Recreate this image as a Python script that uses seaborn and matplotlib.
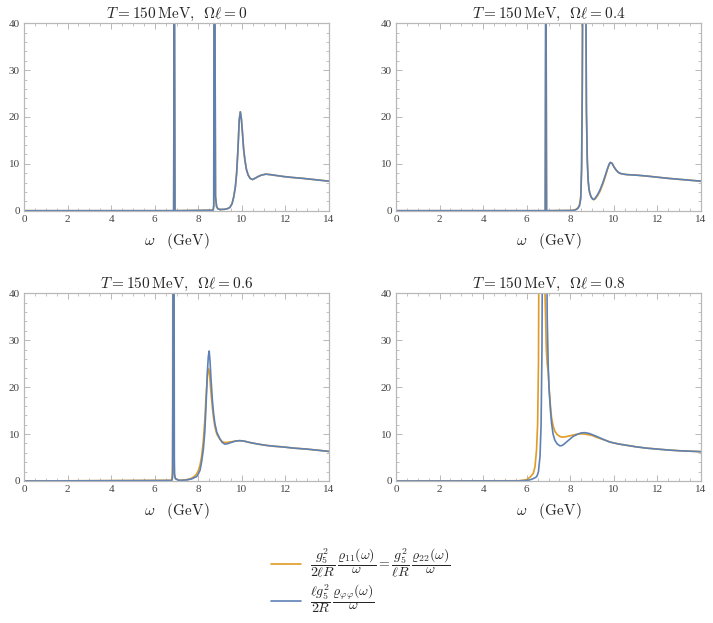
import pandas as pd
import numpy as np
import matplotlib
matplotlib.use('Agg')
import matplotlib.pyplot as plt
import seaborn as sns
from matplotlib.lines import Line2D
from matplotlib.ticker import MultipleLocator

# Colours (Mathematica defaults)
orange = '#E19C24'
blue = '#5E81B5'

# Panel titles
omega_l = ['0', '0.4', '0.6', '0.8']

# Panel 1: Omega*l = 0 (both curves coincide)
w_p1 = [0.0, 6.87, 6.90, 6.93, 8.68, 8.71, 8.725, 8.755, 8.79, 8.84, 8.90, 9.0, 9.2,
        9.35, 9.45, 9.55, 9.62, 9.70, 9.76, 9.82, 9.88, 9.93, 9.98, 10.03, 10.08,
        10.14, 10.21, 10.29, 10.38, 10.49, 10.60, 10.75, 10.90, 11.10, 11.30, 11.60,
        11.90, 12.30, 12.80, 13.40, 14.0]
blue_p1 = [0.0, 0.0, 60.0, 0.0, 0.1, 1.0, 60.0, 60.0, 3.0, 0.9, 0.4, 0.25, 0.3,
           0.45, 0.7, 1.5, 2.8, 5.0, 8.0, 13.0, 19.4, 21.1, 19.5, 16.5, 13.2,
           10.8, 8.8, 7.6, 6.9, 6.65, 6.9, 7.3, 7.6, 7.8, 7.7, 7.5,
           7.3, 7.1, 6.9, 6.6, 6.3]
orange_p1 = list(blue_p1)

# Panel 2: Omega*l = 0.4
w_p2 = [0.0, 6.85, 6.88, 6.91, 8.10, 8.25, 8.35, 8.42, 8.48, 8.52, 8.55, 8.58, 8.70,
        8.74, 8.78, 8.82, 8.86, 8.90, 8.96, 9.03, 9.08, 9.15, 9.25, 9.36, 9.48,
        9.59, 9.70, 9.78, 9.84, 9.92, 10.0, 10.1, 10.2, 10.3, 10.45, 10.6, 11.0,
        11.5, 12.0, 12.5, 13.0, 13.5, 14.0]
blue_p2 = [0.0, 0.0, 60.0, 0.0, 0.05, 0.2, 0.5, 1.0, 2.5, 8.7, 25.0, 60.0, 60.0,
           22.0, 11.0, 6.5, 4.6, 3.7, 2.9, 2.45, 2.4, 2.7, 3.4, 4.4, 5.8,
           7.3, 8.9, 9.9, 10.3, 10.1, 9.4, 8.7, 8.2, 7.95, 7.8, 7.7, 7.6,
           7.4, 7.15, 6.9, 6.7, 6.5, 6.3]
orange_p2 = [0.0, 0.0, 60.0, 0.0, 0.06, 0.25, 0.6, 1.2, 3.0, 10.0, 28.0, 60.0, 60.0,
             21.0, 10.5, 6.3, 4.5, 3.6, 2.9, 2.5, 2.35, 2.55, 3.2, 4.1, 5.5,
             7.0, 8.7, 9.8, 10.3, 10.1, 9.4, 8.7, 8.2, 7.95, 7.8, 7.7, 7.6,
             7.4, 7.15, 6.9, 6.7, 6.5, 6.3]

# Panel 3: Omega*l = 0.6
w_p3 = [0.0, 6.78, 6.81, 6.82, 6.835, 6.845, 6.875, 6.885, 6.90, 6.91, 6.95, 7.10,
        7.30, 7.50, 7.70, 7.85, 7.92, 8.0, 8.08, 8.15, 8.23, 8.30, 8.35, 8.42,
        8.46, 8.50, 8.54, 8.58, 8.65, 8.70, 8.76, 8.85, 8.99, 9.10, 9.22, 9.35,
        9.50, 9.70, 9.90, 10.1, 10.37, 10.7, 11.1, 11.5, 11.9, 12.4, 12.97, 13.5, 14.0]
blue_p3 = [0.0, 0.1, 0.6, 1.0, 20.0, 60.0, 60.0, 60.0, 5.0, 1.5, 0.5, 0.15,
           0.15, 0.25, 0.45, 0.8, 0.9, 1.5, 2.3, 4.0, 6.6, 10.5, 15.5, 23.5,
           26.5, 27.7, 25.5, 22.0, 17.0, 14.5, 12.3, 10.4, 9.0, 8.2, 7.85, 7.95,
           8.2, 8.5, 8.6, 8.5, 8.2, 7.9, 7.6, 7.4, 7.25, 7.0, 6.8, 6.55, 6.3]
orange_p3 = [0.0, 0.15, 1.5, 3.0, 60.0, 60.0, 60.0, 6.0, 1.5, 1.0, 0.5, 0.15,
             0.2, 0.3, 0.6, 1.1, 1.5, 2.2, 3.4, 5.2, 8.5, 13.0, 17.5, 22.5,
             24.0, 23.5, 21.5, 19.0, 15.5, 13.5, 11.6, 10.0, 8.9, 8.4, 8.2, 8.25,
             8.35, 8.5, 8.6, 8.5, 8.2, 7.9, 7.6, 7.4, 7.25, 7.0, 6.8, 6.55, 6.3]

# Panel 4: Omega*l = 0.8
w_p4 = [0.0, 5.6, 5.9, 6.0, 6.15, 6.30, 6.38, 6.45, 6.50, 6.54, 6.57, 6.61, 6.66,
        6.70, 6.73, 6.80, 6.84, 6.90, 6.94, 6.99, 7.03, 7.09, 7.14, 7.21, 7.29,
        7.40, 7.52, 7.62, 7.75, 7.95, 8.13, 8.35, 8.50, 8.67, 8.85, 9.0, 9.21,
        9.5, 9.82, 10.2, 10.6, 11.0, 11.5, 12.0, 12.5, 13.0, 13.5, 14.0]
blue_p4 = [0.0, 0.02, 0.08, 0.12, 0.25, 0.5, 0.7, 0.9, 1.4, 2.0, 3.5, 5.2, 12.0,
           28.0, 60.0, 60.0, 60.0, 60.0, 35.0, 24.0, 19.4, 15.0, 12.3, 10.0, 8.7,
           7.9, 7.5, 7.55, 8.0, 8.8, 9.5, 10.0, 10.25, 10.3, 10.15, 9.9, 9.5,
           8.9, 8.3, 7.9, 7.6, 7.3, 7.0, 6.8, 6.6, 6.45, 6.35, 6.25]
orange_p4 = [0.0, 0.05, 0.2, 0.3, 0.8, 1.6, 3.0, 6.6, 12.0, 25.0, 60.0, 60.0, 60.0,
             60.0, 60.0, 60.0, 40.0, 28.0, 25.0, 23.0, 19.5, 16.0, 13.5, 11.8, 10.6,
             9.9, 9.5, 9.35, 9.4, 9.6, 9.8, 10.0, 10.05, 10.0, 9.85, 9.7, 9.3,
             8.85, 8.3, 7.9, 7.6, 7.3, 7.0, 6.8, 6.6, 6.45, 6.35, 6.25]

panels = [(w_p1, orange_p1, blue_p1), (w_p2, orange_p2, blue_p2),
          (w_p3, orange_p3, blue_p3), (w_p4, orange_p4, blue_p4)]

sns.set_style('ticks')
plt.rcParams['font.family'] = ['Liberation Serif', 'DejaVu Serif']
plt.rcParams['mathtext.fontset'] = 'cm'

fig = plt.figure(figsize=(7.13, 6.23), dpi=100)
W, H = 713.0, 623.0
boxes = [(24, 23.3, 329, 210.7), (396, 23.3, 701, 210.7),
         (24, 293.3, 329, 481), (396, 293.3, 701, 481)]

frame_col = '#b8b8b8'
for i, (w, yo, yb) in enumerate(panels):
    x0, y0, x1, y1 = boxes[i]
    ax = fig.add_axes([x0 / W, 1 - y1 / H, (x1 - x0) / W, (y1 - y0) / H])
    df = pd.DataFrame({'omega': w, 'orange': yo, 'blue': yb})
    sns.lineplot(data=df, x='omega', y='orange', color=orange, lw=1.2,
                 estimator=None, ax=ax)
    sns.lineplot(data=df, x='omega', y='blue', color=blue, lw=1.2,
                 estimator=None, ax=ax)
    ax.set_xlim(0, 14)
    ax.set_ylim(0, 40)
    ax.xaxis.set_major_locator(MultipleLocator(2))
    ax.xaxis.set_minor_locator(MultipleLocator(0.5))
    ax.yaxis.set_major_locator(MultipleLocator(10))
    ax.yaxis.set_minor_locator(MultipleLocator(2))
    ax.tick_params(which='both', direction='in', top=True, right=True,
                   color=frame_col, labelsize=8, labelcolor='#444444', pad=3)
    ax.tick_params(which='major', length=4, width=0.7)
    ax.tick_params(which='minor', length=2, width=0.6)
    for s in ax.spines.values():
        s.set_color(frame_col)
        s.set_linewidth(0.9)
    ax.set_title(r'$T = 150\,\mathrm{MeV},\;\; \Omega\ell = %s$' % omega_l[i],
                 fontsize=11, pad=4)
    ax.set_xlabel(r'$\omega\quad(\mathrm{GeV})$', fontsize=11, labelpad=5)
    ax.set_ylabel('')

handles = [Line2D([], [], color=orange, lw=1.2), Line2D([], [], color=blue, lw=1.2)]
labels = [r'$\dfrac{g_5^2}{2\ell R}\,\dfrac{\varrho_{11}(\omega)}{\omega} = \dfrac{g_5^2}{\ell R}\,\dfrac{\varrho_{22}(\omega)}{\omega}$',
          r'$\dfrac{\ell g_5^2}{2R}\,\dfrac{\varrho_{\varphi\varphi}(\omega)}{\omega}$']
leg = fig.legend(handles, labels, loc='center', bbox_to_anchor=(0.506, 0.068),
                 frameon=False, fontsize=10, handlelength=2.2, handletextpad=0.6,
                 labelspacing=0.25, alignment='left')

fig.savefig('out.png', dpi=100)
